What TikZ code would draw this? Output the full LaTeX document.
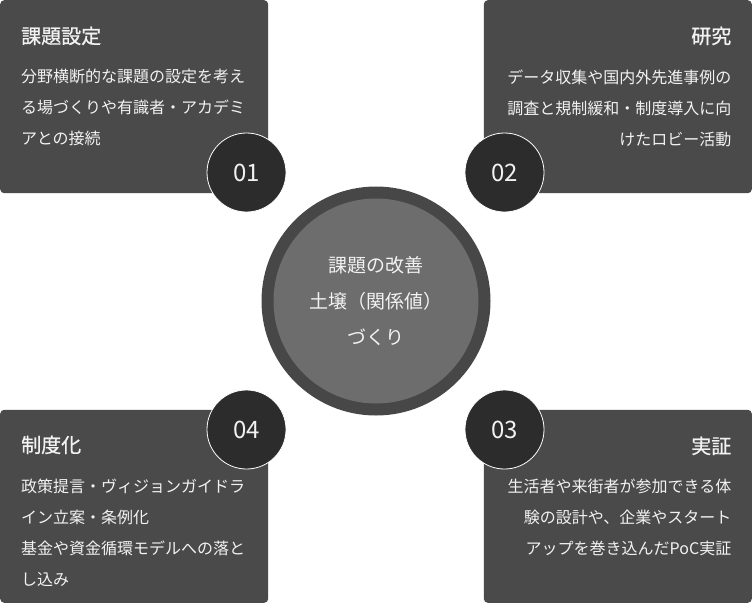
\documentclass[tikz,border=0pt]{standalone}
\usepackage{fontspec}
\setmainfont{Noto Sans CJK JP}
\newfontfamily\headfont{Noto Sans CJK JP}[FakeBold=0.8]

\definecolor{cardgray}{HTML}{4A4A4A}
\definecolor{discdark}{HTML}{2C2C2C}
\definecolor{ringgray}{HTML}{474747}
\definecolor{coregray}{HTML}{6D6D6D}
\definecolor{inkwhite}{HTML}{F2F2F2}

\tikzset{
  card/.style={fill=cardgray, rounded corners=4pt, minimum width=268pt, minimum height=193pt, inner sep=0pt},
  numdisc/.style={circle, fill=discdark, draw=white, line width=0.8pt, minimum size=79pt, inner sep=0pt,
    text=inkwhite, font=\fontsize{24}{24}\selectfont},
  cardtitle/.style={inner sep=0pt, text=inkwhite, font=\headfont\fontsize{20}{20}\selectfont},
  cardbody/.style={inner sep=0pt, text=inkwhite, font=\fontsize{16}{31}\selectfont},
}

\begin{document}
\begin{tikzpicture}[x=1pt, y=-1pt]
    \useasboundingbox (0,0) rectangle (752,603);

    % Draw the four cards
    \node[card, anchor=north west] (card1) at (0,0) {};
    \node[card, anchor=north east] (card2) at (752,0) {};
    \node[card, anchor=south east] (card3) at (752,603) {};
    \node[card, anchor=south west] (card4) at (0,603) {};

    % Card 01
    \node[cardtitle, anchor=base west] (title1) at (21,43.5) {課題設定};
    \node[cardbody, anchor=north west, align=left] (body1) at (21,69)
        {分野横断的な課題の設定を考え\\る場づくりや有識者・アカデミ\\アとの接続};

    % Card 02
    \node[cardtitle, anchor=base east] (title2) at (731.5,43.5) {研究};
    \node[cardbody, anchor=north east, align=right] (body2) at (731.5,69.5)
        {データ収集や国内外先進事例の\\調査と規制緩和・制度導入に向\\けたロビー活動};

    % Card 03
    \node[cardtitle, anchor=base east] (title3) at (731.5,453.5) {実証};
    \node[cardbody, anchor=north east, align=right] (body3) at (731.5,478.5)
        {生活者や来街者が参加できる体\\験の設計や、企業やスタート\\アップを巻き込んだPoC実証};

    % Card 04
    \node[cardtitle, anchor=base west] (title4) at (21,452.5) {制度化};
    \node[cardbody, anchor=north west, align=left] (body4) at (21,479)
        {政策提言・ヴィジョンガイドラ\\イン立案・条例化\\基金や資金循環モデルへの落と\\し込み};

    % Number discs
    \node[numdisc] (num1) at (246.5,172.5) {01};
    \node[numdisc] (num2) at (504.5,172.5) {02};
    \node[numdisc] (num3) at (504.5,429.5) {03};
    \node[numdisc] (num4) at (246.5,429.5) {04};

    % Central circle
    \node[circle, fill=ringgray, minimum size=229pt, inner sep=0pt] (ring) at (376,301) {};
    \node[circle, fill=coregray, minimum size=205pt, inner sep=0pt, text=inkwhite,
        font=\fontsize{19}{36}\selectfont, align=center] (core) at (376,301)
        {課題の改善\\土壌（関係値）\\づくり};
\end{tikzpicture}
\end{document}
